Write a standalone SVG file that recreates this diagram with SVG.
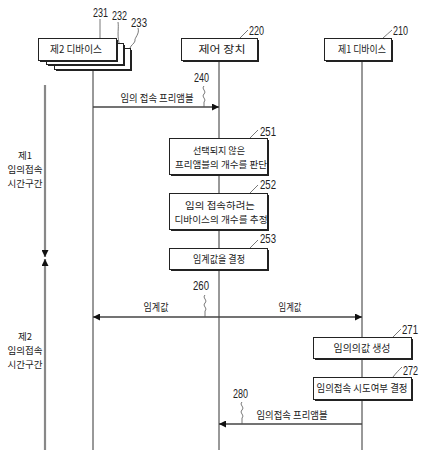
<svg xmlns="http://www.w3.org/2000/svg" width="427" height="460" viewBox="0 0 427 460">
<style>
.box{fill:#fff;stroke:#222;stroke-width:1}
.sh{fill:#222}
.kt{font-family:"Noto Sans CJK KR","Noto Sans",sans-serif;font-size:10px;fill:#222;text-anchor:middle}
.kl{font-size:9.5px}
.num{font-family:"Liberation Sans",Arial,sans-serif;font-size:13px;fill:#222}
.life{stroke:#333;stroke-width:1;fill:none}
.msg{stroke:#444;stroke-width:1.3;fill:none}
.ld{stroke:#555;stroke-width:0.8;fill:none}
.tl{stroke:#888;stroke-width:2.2;fill:none}
</style>
<defs>
<marker id="ah" viewBox="0 0 10 10" refX="10" refY="5" markerWidth="9" markerHeight="7" markerUnits="userSpaceOnUse" orient="auto-start-reverse">
<path d="M0,0 L10,5 L0,10 Z" fill="#111"/>
</marker>
<marker id="tm" viewBox="0 0 10 10" refX="10" refY="5" markerWidth="7" markerHeight="7" markerUnits="userSpaceOnUse" orient="auto-start-reverse">
<path d="M0,0 L10,5 L0,10 Z" fill="#111"/>
</marker>
</defs>

<g id="connectors">
<line class="life" x1="93" y1="70" x2="93" y2="450"/>
<line class="life" x1="219" y1="60" x2="219" y2="450"/>
<line class="life" x1="362" y1="60" x2="362" y2="450"/>
<line class="tl" x1="45" y1="85" x2="45" y2="257" marker-end="url(#tm)"/>
<line class="tl" x1="45" y1="259" x2="45" y2="450" marker-start="url(#tm)"/>
<line class="msg" x1="93" y1="107" x2="219" y2="107" marker-end="url(#ah)"/>
<line class="msg" x1="93" y1="317" x2="362" y2="317" marker-start="url(#ah)" marker-end="url(#ah)"/>
<line class="msg" x1="362" y1="424" x2="219" y2="424" marker-end="url(#ah)"/>
<text class="kt" x="157" y="102" textLength="73" lengthAdjust="spacingAndGlyphs">임의 접속 프리앰블</text>
<text class="kt" x="156" y="311" textLength="25" lengthAdjust="spacingAndGlyphs">임계값</text>
<text class="kt" x="290" y="311" textLength="23" lengthAdjust="spacingAndGlyphs">임계값</text>
<text class="kt" x="292" y="419" textLength="71" lengthAdjust="spacingAndGlyphs">임의접속 프리앰블</text>
<path class="ld" d="M204,86 c-3,3 3,5 0,8 c-3,3 3,5 0,8 l0,5"/>
<text class="num" x="194" y="82" textLength="15" lengthAdjust="spacingAndGlyphs">240</text>
<path class="ld" d="M205,295 c-3,3 3,5 0,8 c-3,3 3,5 0,8 l0,6"/>
<text class="num" x="193" y="290" textLength="16" lengthAdjust="spacingAndGlyphs">260</text>
<path class="ld" d="M242,402 c-3,3 3,5 0,8 c-3,3 3,5 0,8 l0,6"/>
<text class="num" x="233" y="398" textLength="15" lengthAdjust="spacingAndGlyphs">280</text>
</g>

<g id="time1">
<text class="kt kl" x="25" y="159" textLength="14" lengthAdjust="spacingAndGlyphs">제1</text>
<text class="kt kl" x="25" y="173" textLength="35" lengthAdjust="spacingAndGlyphs">임의접속</text>
<text class="kt kl" x="25" y="187" textLength="35" lengthAdjust="spacingAndGlyphs">시간구간</text>
</g>
<g id="time2">
<text class="kt kl" x="25" y="340" textLength="14" lengthAdjust="spacingAndGlyphs">제2</text>
<text class="kt kl" x="25" y="354" textLength="35" lengthAdjust="spacingAndGlyphs">임의접속</text>
<text class="kt kl" x="25" y="368" textLength="35" lengthAdjust="spacingAndGlyphs">시간구간</text>
</g>

<g id="n233">
<rect class="sh" x="56" y="50" width="76" height="21"/>
<rect class="box" x="54.5" y="48.5" width="76" height="21"/>
<path class="ld" d="M138,28 C140,34 134,38 135,41 C134,44 131,45 130,48"/>
<text class="num" x="131" y="27" textLength="16" lengthAdjust="spacingAndGlyphs">233</text>
</g>
<g id="n232">
<rect class="sh" x="48" y="45" width="77" height="21"/>
<rect class="box" x="46.5" y="43.5" width="77" height="21"/>
<path class="ld" d="M118,22 C119,28 117,34 119,43"/>
<text class="num" x="112" y="20" textLength="15" lengthAdjust="spacingAndGlyphs">232</text>
</g>
<g id="n231">
<rect class="sh" x="40" y="40" width="78" height="22"/>
<rect class="box" x="38.5" y="38.5" width="78" height="22"/>
<text class="kt" x="76" y="53" textLength="52" lengthAdjust="spacingAndGlyphs">제2 디바이스</text>
<line class="ld" x1="100" y1="19" x2="100" y2="38"/>
<text class="num" x="93" y="17" textLength="15" lengthAdjust="spacingAndGlyphs">231</text>
</g>

<g id="n220">
<rect class="sh" x="183" y="40" width="76" height="22"/>
<rect class="box" x="181.5" y="38.5" width="76" height="22"/>
<text class="kt" x="222" y="53" textLength="47" lengthAdjust="spacingAndGlyphs">제어 장치</text>
<path class="ld" d="M240,38 C243,35 245,33 248,30"/>
<text class="num" x="249" y="35" textLength="15" lengthAdjust="spacingAndGlyphs">220</text>
</g>

<g id="n210">
<rect class="sh" x="326" y="40" width="67" height="22"/>
<rect class="box" x="324.5" y="38.5" width="67" height="22"/>
<text class="kt" x="362" y="53" textLength="48" lengthAdjust="spacingAndGlyphs">제1 디바이스</text>
<path class="ld" d="M383,38 C386,35 389,33 392,30"/>
<text class="num" x="393" y="35" textLength="15" lengthAdjust="spacingAndGlyphs">210</text>
</g>

<g id="n251">
<rect class="sh" x="171" y="140" width="98" height="36"/>
<rect class="box" x="169.5" y="138.5" width="98" height="36"/>
<text class="kt kl" x="219" y="154" textLength="52" lengthAdjust="spacingAndGlyphs">선택되지 않은</text>
<text class="kt kl" x="221" y="168" textLength="92" lengthAdjust="spacingAndGlyphs">프리앰블의 개수를 판단</text>
<path class="ld" d="M250,138 C253,135 255,133 258,130"/>
<text class="num" x="260" y="136" textLength="16" lengthAdjust="spacingAndGlyphs">251</text>
</g>

<g id="n252">
<rect class="sh" x="171" y="195" width="98" height="36"/>
<rect class="box" x="169.5" y="193.5" width="98" height="36"/>
<text class="kt kl" x="220" y="209" textLength="70" lengthAdjust="spacingAndGlyphs">임의 접속하려는</text>
<text class="kt kl" x="221" y="223" textLength="93" lengthAdjust="spacingAndGlyphs">디바이스의 개수를 추정</text>
<path class="ld" d="M250,193 C253,190 255,188 258,185"/>
<text class="num" x="260" y="189" textLength="16" lengthAdjust="spacingAndGlyphs">252</text>
</g>

<g id="n253">
<rect class="sh" x="171" y="250" width="98" height="21"/>
<rect class="box" x="169.5" y="248.5" width="98" height="21"/>
<text class="kt" x="219" y="263" textLength="52" lengthAdjust="spacingAndGlyphs">임계값을 결정</text>
<path class="ld" d="M250,248 C253,245 255,243 258,240"/>
<text class="num" x="260" y="243" textLength="16" lengthAdjust="spacingAndGlyphs">253</text>
</g>

<g id="n271">
<rect class="sh" x="315" y="339" width="98" height="21"/>
<rect class="box" x="313.5" y="337.5" width="98" height="21"/>
<text class="kt" x="362" y="352" textLength="57" lengthAdjust="spacingAndGlyphs">임의의값 생성</text>
<path class="ld" d="M393,337 C396,334 398,332 401,329"/>
<text class="num" x="402" y="334" textLength="16" lengthAdjust="spacingAndGlyphs">271</text>
</g>

<g id="n272">
<rect class="sh" x="315" y="379" width="98" height="22"/>
<rect class="box" x="313.5" y="377.5" width="98" height="22"/>
<text class="kt" x="362" y="392" textLength="91" lengthAdjust="spacingAndGlyphs">임의접속 시도여부 결정</text>
<path class="ld" d="M393,377 C396,373 399,370 402,367"/>
<text class="num" x="403" y="375" textLength="15" lengthAdjust="spacingAndGlyphs">272</text>
</g>
</svg>
